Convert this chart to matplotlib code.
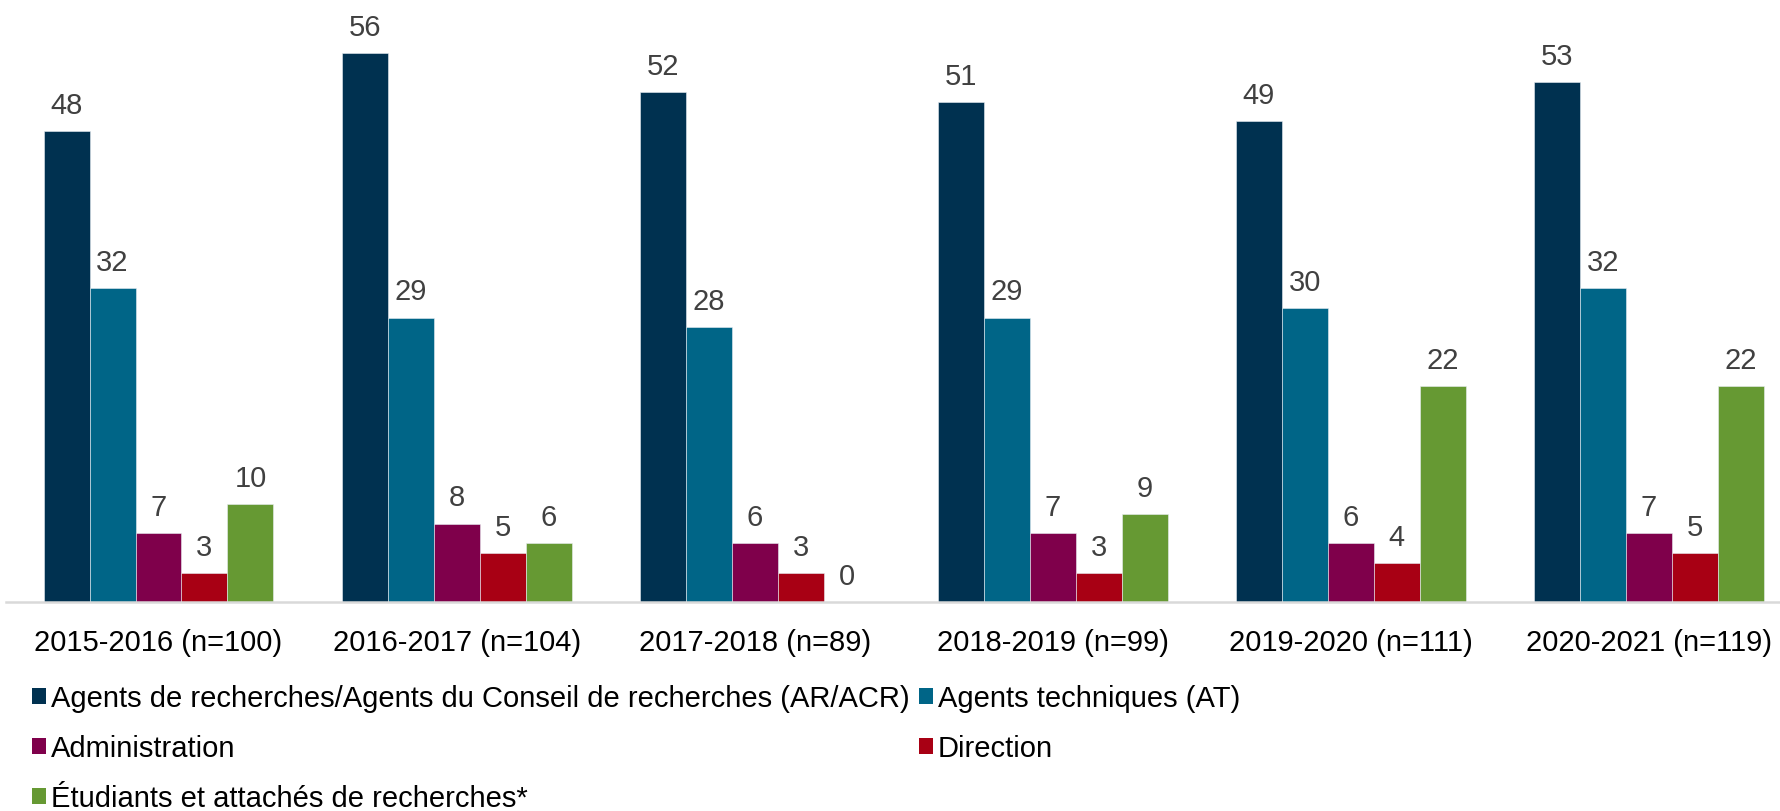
import numpy as np
import matplotlib
matplotlib.use("Agg")
import matplotlib.pyplot as plt
from matplotlib.patches import Patch

plt.rcParams['font.family'] = ['Liberation Sans', 'DejaVu Sans']

# données
periodes = ["2015-2016 (n=100)", "2016-2017 (n=104)", "2017-2018 (n=89)",
            "2018-2019 (n=99)", "2019-2020 (n=111)", "2020-2021 (n=119)"]
series = ["Agents de recherches/Agents du Conseil de recherches (AR/ACR)",
          "Agents techniques (AT)",
          "Administration",
          "Direction",
          "Étudiants et attachés de recherches*"]
ar_acr = [48, 56, 52, 51, 49, 53]
at = [32, 29, 28, 29, 30, 32]
admin = [7, 8, 6, 7, 6, 7]
direction = [3, 5, 3, 3, 4, 5]
etudiants = [10, 6, 0, 9, 22, 22]
valeurs = [ar_acr, at, admin, direction, etudiants]
couleurs = ["#003150", "#006587", "#7f004b", "#a80014", "#669933"]

W, H = 1781, 812
fig = plt.figure(figsize=(W / 100, H / 100), dpi=100)
ax = fig.add_axes([6 / W, (H - 603) / H, (W - 6) / W, 603 / H])

x = np.arange(len(periodes))
bw = 0.1543
for k, (vals, c) in enumerate(zip(valeurs, couleurs)):
    pos = x + (k - 2) * bw
    ax.bar(pos, vals, width=bw, color=c, edgecolor="#e8eef3", linewidth=0.4)
    for p, v in zip(pos, vals):
        ax.annotate(str(v), (p, v), xytext=(0, 13), textcoords="offset points",
                    ha="center", va="baseline", fontsize=21, color="#404040")

ax.set_xlim(-0.5116, 5.443)
ax.set_ylim(0, 61.47)
ax.set_xticks(x)
ax.set_xticklabels(periodes, fontsize=21, color="black")
ax.tick_params(axis="x", length=0, pad=19)
ax.set_yticks([])
for s in ["top", "left", "right"]:
    ax.spines[s].set_visible(False)
ax.spines["bottom"].set_color("#d9d9d9")
ax.spines["bottom"].set_linewidth(1.8)

# légende : ordre colonne par colonne
ordre = [0, 2, 4, 1, 3]
handles = [Patch(facecolor=couleurs[i]) for i in ordre]
labels = [series[i] for i in ordre]
fig.legend(handles, labels, ncol=2, loc="upper left",
           bbox_to_anchor=(32 / W, (H - 685) / H), frameon=False,
           fontsize=21, handlelength=0.48, handleheight=0.48,
           handletextpad=0.17, columnspacing=0.31, labelspacing=0.76,
           borderpad=0, borderaxespad=0)

fig.savefig("out.png", dpi=100)
